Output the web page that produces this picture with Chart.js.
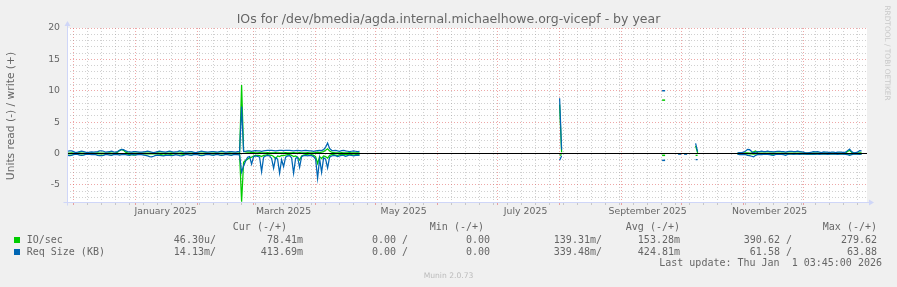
<!DOCTYPE html>
<html>
<head>
<meta charset="utf-8">
<title>IOs by year</title>
<script src="https://cdn.jsdelivr.net/npm/chart.js@4.4.1/dist/chart.umd.min.js"></script>
<style>
  body { margin: 0; background: #F0F0F0; }
  #wrap { position: relative; width: 897px; height: 287px; overflow: hidden; font-family: "DejaVu Sans", sans-serif; color: #666; }
  #wrap canvas { position: absolute; left: 0; top: 0; }
  .t { position: absolute; white-space: pre; }
  .mono { font-family: "DejaVu Sans Mono", monospace; font-size: 10px; line-height: 12px; }
  .sq { position: absolute; width: 6px; height: 6px; }
</style>
</head>
<body>
<div id="wrap">
  <canvas id="chart" width="897" height="287"></canvas>
  <div class="t" style="left:0;width:897px;text-align:center;top:12px;font-size:12.5px;line-height:14px">IOs for /dev/bmedia/agda.internal.michaelhowe.org-vicepf - by year</div>
  <div class="t" style="left:-89.5px;width:200px;top:109px;font-size:10.7px;line-height:14px;text-align:center;transform:rotate(-90deg)">Units read (-) / write (+)</div>
  <div class="t" style="left:836.7px;width:100px;top:47px;font-size:7.4px;line-height:12px;text-align:center;color:#c8c8c8;transform:rotate(90deg)">RRDTOOL / TOBI OETIKER</div>
  <div class="t" style="left:0;width:897px;text-align:center;top:270px;font-size:7.6px;line-height:12px;color:#bbb">Munin 2.0.73</div>
  <div id="legend"></div>
</div>
<script>
// x values are days since 1 Dec 2024, one point per day (munin yearly RRA)
var seg1Start = -3;   // 28 Nov 2024
var seg3Start = 332;  // 29 Oct 2025

// IO/sec, write (+)
var ioWrite1 = [
  0.05,0.05,0.1,0.05,0.05,0.05,0.1,0.05,0.05,0.05,
  0.05,0.05,0.1,0.05,0.05,0.1,0.05,0.05,0.05,0.05,
  0.05,0.1,0.05,0.05,0.1,0.2,0.45,0.65,0.5,0.2,
  0.1,0.05,0.05,0.05,0.05,0.05,0.1,0.05,0.05,0.05,
  0.05,0.05,0.05,0.05,0.05,0.1,0.05,0.05,0.05,0.05,
  0.05,0.05,0.1,0.05,0.05,0.05,0.05,0.1,0.05,0.05,
  0.05,0.05,0.05,0.1,0.05,0.05,0.05,0.05,0.05,0.1,
  0.05,0.05,0.05,0.05,0.1,0.05,0.05,0.05,0.05,0.05,
  0.05,0.1,0.05,0.05,0.05,0.05,0.1,
  10.9,
  0.3,0.25,0.2,0.2,0.15,0.15,0.1,0.1,0.15,0.1,
  0.1,0.1,0.15,0.1,0.1,0.1,0.15,0.1,0.1,0.1,
  0.1,0.15,0.1,0.1,0.1,0.15,0.1,0.1,0.15,0.1,
  0.1,0.1,0.15,0.1,0.1,0.1,0.15,0.2,0.15,0.2,
  0.3,0.5,0.75,0.4,0.2,0.15,0.1,0.1,0.1,0.15,
  0.1,0.1,0.1,0.15,0.1,0.1,0.1,0.1,0.1
];
// IO/sec, read (-)
var ioRead1 = [
  -0.05,-0.05,-0.05,-0.05,-0.05,-0.05,-0.05,-0.05,-0.05,-0.05,
  -0.05,-0.05,-0.05,-0.05,-0.05,-0.05,-0.05,-0.05,-0.05,-0.05,
  -0.05,-0.05,-0.05,-0.05,-0.05,-0.05,-0.05,-0.1,-0.05,-0.05,
  -0.1,-0.2,-0.2,-0.25,-0.2,-0.1,-0.05,-0.05,-0.05,-0.05,
  -0.05,-0.05,-0.05,-0.05,-0.05,-0.05,-0.1,-0.2,-0.25,-0.2,
  -0.25,-0.2,-0.1,-0.05,-0.05,-0.05,-0.05,-0.1,-0.15,-0.1,
  -0.05,-0.05,-0.05,-0.05,-0.05,-0.05,-0.05,-0.05,-0.05,-0.05,
  -0.05,-0.05,-0.05,-0.05,-0.05,-0.05,-0.05,-0.05,-0.05,-0.05,
  -0.05,-0.05,-0.05,-0.05,-0.05,-0.05,-0.1,
  -7.7,
  -1.4,-1.1,-0.9,-0.7,-0.6,-0.4,-0.3,-0.3,-0.35,-0.5,
  -0.3,-0.25,-0.2,-0.25,-0.3,-0.5,-0.85,-0.4,-0.5,-0.3,
  -0.35,-0.25,-0.2,-0.2,-0.3,-0.5,-0.4,-0.6,-1.05,-0.4,
  -0.25,-0.2,-0.2,-0.25,-0.2,-0.3,-0.5,-1.6,-0.5,-0.8,
  -0.4,-0.5,-0.75,-0.3,-0.2,-0.2,-0.25,-0.3,-0.2,-0.2,
  -0.15,-0.2,-0.2,-0.15,-0.2,-0.25,-0.2,-0.15,-0.2
];
// Req Size (KB), write (+)
var reqWrite1 = [
  0.35,0.4,0.4,0.3,0.15,0.2,0.3,0.35,0.3,0.2,
  0.15,0.2,0.25,0.2,0.25,0.3,0.4,0.4,0.35,0.2,
  0.25,0.3,0.35,0.25,0.2,0.3,0.5,0.65,0.6,0.4,
  0.3,0.25,0.2,0.3,0.3,0.25,0.2,0.2,0.25,0.3,
  0.35,0.3,0.2,0.15,0.2,0.3,0.35,0.3,0.25,0.2,
  0.3,0.35,0.3,0.2,0.25,0.3,0.4,0.35,0.25,0.2,
  0.25,0.3,0.3,0.2,0.15,0.2,0.3,0.35,0.3,0.25,
  0.2,0.25,0.3,0.3,0.25,0.2,0.3,0.35,0.3,0.2,
  0.25,0.3,0.3,0.25,0.2,0.3,0.3,
  7.5,
  0.3,0.35,0.4,0.4,0.35,0.4,0.45,0.4,0.4,0.35,
  0.4,0.45,0.5,0.5,0.5,0.45,0.4,0.45,0.5,0.5,
  0.45,0.5,0.5,0.5,0.45,0.4,0.45,0.5,0.45,0.4,
  0.45,0.5,0.45,0.4,0.4,0.35,0.4,0.45,0.5,0.45,
  0.6,1.0,1.65,0.8,0.5,0.45,0.5,0.4,0.35,0.45,
  0.5,0.4,0.35,0.3,0.35,0.4,0.35,0.3,0.35
];
// Req Size (KB), read (-)
var reqRead1 = [
  -0.3,-0.35,-0.3,-0.2,-0.1,-0.15,-0.25,-0.3,-0.25,-0.15,
  -0.1,-0.15,-0.2,-0.15,-0.2,-0.3,-0.35,-0.35,-0.3,-0.15,
  -0.2,-0.25,-0.3,-0.2,-0.15,-0.2,-0.25,-0.2,-0.15,-0.2,
  -0.25,-0.3,-0.2,-0.2,-0.25,-0.2,-0.15,-0.2,-0.25,-0.3,
  -0.4,-0.5,-0.55,-0.45,-0.3,-0.25,-0.3,-0.35,-0.4,-0.3,
  -0.25,-0.3,-0.35,-0.3,-0.2,-0.25,-0.35,-0.4,-0.3,-0.2,
  -0.2,-0.25,-0.3,-0.2,-0.15,-0.2,-0.3,-0.35,-0.3,-0.2,
  -0.15,-0.2,-0.25,-0.3,-0.2,-0.15,-0.25,-0.3,-0.25,-0.15,
  -0.2,-0.25,-0.3,-0.2,-0.15,-0.2,-0.25,
  -3.0,
  -2.0,-1.2,-0.6,-0.5,-1.7,-0.5,-0.4,-0.45,-0.6,-2.9,
  -0.6,-0.4,-0.3,-0.4,-0.8,-2.35,-0.7,-0.9,-3.15,-1.0,
  -2.1,-0.6,-0.4,-0.35,-0.7,-3.15,-0.8,-0.6,-2.2,-0.5,
  -0.35,-0.3,-0.4,-0.3,-0.35,-0.5,-0.9,-3.95,-0.8,-3.0,
  -0.7,-0.9,-2.3,-0.6,-0.4,-0.3,-0.35,-0.5,-0.4,-0.3,
  -0.3,-0.45,-0.35,-0.25,-0.3,-0.4,-0.3,-0.25,-0.3
];

// scattered samples during the summer
var spotDays      = [243, 244, 295, 303, 306, 311, 312];
var ioWriteSpot   = [7.8, 0.2, 8.5, null, null, 1.2, 0.1];
var ioReadSpot    = [-0.3, -0.2, -0.3, null, null, -0.3, -0.3];
var reqWriteSpot  = [8.8, 0.6, 10.0, null, null, 1.6, 0.3];
var reqReadSpot   = [-1.1, -0.4, -1.1, -0.1, -0.1, -1.0, -1.0];

var ioWrite3 = [
  0.05,0.05,0.05,0.05,0.1,0.1,0.05,0.1,0.25,0.4,
  0.1,0.05,0.05,0.05,0.05,0.05,0.05,0.05,0.05,0.05,
  0.05,0.05,0.05,0.05,0.05,0.05,0.05,0.05,0.05,0.05,
  0.05,0.05,0.05,0.05,0.05,0.05,0.05,0.05,0.05,0.05,
  0.05,0.05,0.05,0.05,0.05,0.05,0.05,0.05,0.05,0.05,
  0.05,0.05,0.05,0.05,0.1,0.3,0.5,0.2,0.05,0.05,
  0.05,0.1,0.1
];
var ioRead3 = [
  -0.15,-0.15,-0.15,-0.1,-0.05,-0.05,-0.05,-0.05,-0.1,-0.05,
  -0.05,-0.05,-0.05,-0.05,-0.1,-0.15,-0.15,-0.15,-0.1,-0.05,
  -0.05,-0.05,-0.05,-0.05,-0.05,-0.05,-0.05,-0.05,-0.05,-0.05,
  -0.05,-0.05,-0.05,-0.05,-0.1,-0.15,-0.15,-0.15,-0.15,-0.1,
  -0.05,-0.05,-0.05,-0.05,-0.05,-0.05,-0.05,-0.05,-0.05,-0.05,
  -0.05,-0.05,-0.05,-0.05,-0.05,-0.1,-0.1,-0.05,-0.05,-0.05,
  -0.05,-0.05,-0.05
];
var reqWrite3 = [
  0.1,0.15,0.15,0.2,0.4,0.65,0.6,0.3,0.1,0.2,
  0.3,0.3,0.35,0.3,0.3,0.35,0.3,0.3,0.25,0.3,
  0.35,0.35,0.3,0.3,0.2,0.3,0.35,0.35,0.3,0.3,
  0.35,0.3,0.25,0.2,0.1,0.1,0.15,0.2,0.3,0.25,
  0.3,0.2,0.15,0.25,0.2,0.2,0.15,0.2,0.2,0.15,
  0.2,0.2,0.2,0.15,0.2,0.45,0.7,0.3,0.1,0.15,
  0.2,0.43,0.4
];
var reqRead3 = [
  -0.1,-0.2,-0.2,-0.15,-0.2,-0.3,-0.35,-0.45,-0.55,-0.3,
  -0.2,-0.15,-0.2,-0.15,-0.1,-0.15,-0.2,-0.25,-0.3,-0.15,
  -0.1,-0.15,-0.15,-0.2,-0.3,-0.15,-0.1,-0.1,-0.15,-0.1,
  -0.1,-0.15,-0.1,-0.1,-0.1,-0.15,-0.1,-0.1,-0.15,-0.1,
  -0.1,-0.15,-0.1,-0.1,-0.1,-0.15,-0.1,-0.1,-0.1,-0.1,
  -0.15,-0.1,-0.1,-0.1,-0.15,-0.2,-0.3,-0.2,-0.1,-0.1,
  -0.1,-0.15,-0.1
];

// axis
var xMin = -3.3, xMax = 396.7;
var yMin = -7.74, yMax = 20;
var monthStarts = [0, 31, 62, 90, 121, 151, 182, 212, 243, 274, 304, 335, 365];
var weekDays = [7,14,21,28,35,42,49,56,63,70,77,84,91,98,105,112,119,126,133,140,147,154,161,168,175,182,189,196,203,210,217,224,231,238,245,252,259,266,273,280,287,294,301,308,315,322,329,336,343,350,357,364,371,378,385,392];
var labelDays = [46, 105, 165, 226, 287, 348];
var monthLabels = ["January 2025", "March 2025", "May 2025", "July 2025", "September 2025", "November 2025"];
var yTicks = [-7,-6,-5,-4,-3,-2,-1,0,1,2,3,4,5,6,7,8,9,10,11,12,13,14,15,16,17,18,19,20];

// legend
var legendHead = ["Cur (-/+)", "Min (-/+)", "Avg (-/+)", "Max (-/+)"];
var ioSecStats = ["46.30u/", "78.41m", "0.00 /", "0.00", "139.31m/", "153.28m", "390.62 /", "279.62"];
var reqSizeStats = ["14.13m/", "413.69m", "0.00 /", "0.00", "339.48m/", "424.81m", "61.58 /", "63.88"];
var lastUpdate = "Last update: Thu Jan  1 03:45:00 2026";

var green = "#00CC00", blue = "#0066B3";
var majorGrid = "rgba(222,79,79,0.5)", minorGrid = "rgba(143,143,143,0.42)";

function series(a, spot, c) {
    var pts = [];
    function push(day, v) {
        if (v === null) return;
        var last = pts[pts.length - 1];
        if (last && day - last.x > 1) pts.push({ x: (last.x + day) / 2, y: null });
        pts.push({ x: day, y: v });
    }
    a.forEach((v, i) => push(seg1Start + i, v));
    spotDays.forEach((d, i) => push(d, spot[i]));
    c.forEach((v, i) => push(seg3Start + i, v));
    return pts;
}

// lone samples get a short dash, like rrdtool does
function lonely(c) {
    var d = c.dataset.data, i = c.dataIndex;
    var p = d[i - 1], n = d[i + 1];
    return ((!p || p.y === null) && (!n || n.y === null)) ? 1.5 : 0;
}

function line(label, data, color) {
    return {
        label: label, data: data, borderColor: color, borderWidth: 1.25,
        pointRadius: lonely, pointStyle: 'line', pointBorderColor: color,
        pointBorderWidth: 1.5, pointHoverRadius: 0, tension: 0, fill: false
    };
}

var xTicks = monthStarts.concat(weekDays, labelDays)
    .filter((v, i, arr) => arr.indexOf(v) === i)
    .sort((a, b) => a - b);

function xGrid(v) {
    if (monthStarts.indexOf(v) >= 0) return majorGrid;
    if (weekDays.indexOf(v) >= 0) return minorGrid;
    return "rgba(0,0,0,0)";
}

var muninPlugin = {
    id: 'munin',
    beforeDraw(chart) {
        var a = chart.chartArea, c = chart.ctx;
        c.save();
        c.fillStyle = "#F0F0F0";
        c.fillRect(0, 0, chart.width, chart.height);
        c.fillStyle = "#FFFFFF";
        c.fillRect(a.left, a.top, a.right - a.left, a.bottom - a.top);
        c.restore();
    },
    afterDatasetsDraw(chart) {
        var a = chart.chartArea, c = chart.ctx;
        var y0 = Math.round(chart.scales.y.getPixelForValue(0)) + 0.5;
        c.save();
        c.strokeStyle = "#000";
        c.lineWidth = 1;
        c.beginPath();
        c.moveTo(a.left, y0);
        c.lineTo(a.right, y0);
        c.stroke();
        c.restore();
    },
    afterDraw(chart) {
        var a = chart.chartArea, c = chart.ctx;
        var l = Math.round(a.left) + 0.5, b = Math.round(a.bottom) + 0.5;
        c.save();
        c.strokeStyle = "#CFD6F8";
        c.fillStyle = "#CFD6F8";
        c.lineWidth = 1;
        c.beginPath();
        c.moveTo(l, b + 3); c.lineTo(l, a.top - 3);
        c.moveTo(l - 4, b); c.lineTo(a.right + 3, b);
        c.stroke();
        c.beginPath();
        c.moveTo(l - 3, a.top - 2); c.lineTo(l + 3, a.top - 2); c.lineTo(l, a.top - 7);
        c.closePath(); c.fill();
        c.beginPath();
        c.moveTo(a.right + 2, b - 3); c.lineTo(a.right + 2, b + 3); c.lineTo(a.right + 7, b);
        c.closePath(); c.fill();
        c.restore();
    }
};

var tickFont = { family: "DejaVu Sans", size: 9.33 };

new Chart(document.getElementById('chart').getContext('2d'), {
    type: 'line',
    data: {
        datasets: [
            line("Req Size (KB) write", series(reqWrite1, reqWriteSpot, reqWrite3), blue),
            line("Req Size (KB) read", series(reqRead1, reqReadSpot, reqRead3), blue),
            line("IO/sec write", series(ioWrite1, ioWriteSpot, ioWrite3), green),
            line("IO/sec read", series(ioRead1, ioReadSpot, ioRead3), green)
        ]
    },
    options: {
        responsive: false,
        animation: false,
        devicePixelRatio: 1,
        events: [],
        layout: { padding: { left: 27, right: 30, top: 28, bottom: 65 } },
        plugins: { legend: { display: false }, tooltip: { enabled: false } },
        scales: {
            x: {
                type: 'linear', min: xMin, max: xMax,
                afterBuildTicks: (s) => { s.ticks = xTicks.map((v) => ({ value: v })); },
                afterFit: (s) => { s.height = 20; },
                grid: {
                    color: (c) => xGrid(c.tick.value),
                    tickColor: (c) => xGrid(c.tick.value),
                    drawTicks: true, tickLength: 3, lineWidth: 1
                },
                border: { display: false, dash: [1, 2] },
                ticks: {
                    autoSkip: false, maxRotation: 0, minRotation: 0, padding: 1,
                    color: "#666", font: tickFont,
                    callback: (v) => { var i = labelDays.indexOf(v); return i >= 0 ? monthLabels[i] : ""; }
                }
            },
            y: {
                type: 'linear', min: yMin, max: yMax,
                afterBuildTicks: (s) => { s.ticks = yTicks.map((v) => ({ value: v })); },
                afterFit: (s) => { s.width = 40; },
                grid: {
                    color: (c) => c.tick.value % 5 === 0 ? majorGrid : minorGrid,
                    drawTicks: false, lineWidth: 1
                },
                border: { display: false, dash: [1, 2] },
                ticks: {
                    autoSkip: false, padding: 7, color: "#666", font: tickFont,
                    callback: (v) => v % 5 === 0 ? String(v) : ""
                }
            }
        }
    },
    plugins: [muninPlugin]
});

// legend block below the graph
var legend = document.getElementById("legend");
var headRight = [287, 484, 680, 877];
var statRight = [216, 303, 408, 490, 602, 680, 792, 877];

function text(str, right, top, left) {
    var d = document.createElement("div");
    d.className = "t mono";
    if (left !== undefined) d.style.left = left + "px";
    else d.style.right = (897 - right) + "px";
    d.style.top = top + "px";
    d.textContent = str;
    legend.appendChild(d);
}
function square(color, top) {
    var d = document.createElement("div");
    d.className = "sq";
    d.style.left = "14px";
    d.style.top = top + "px";
    d.style.background = color;
    legend.appendChild(d);
}

legendHead.forEach((h, i) => text(h, headRight[i], 221.3));
square(green, 237);
text("IO/sec", 0, 233.7, 26.7);
ioSecStats.forEach((s, i) => text(s, statRight[i], 233.7));
square(blue, 249);
text("Req Size (KB)", 0, 245.7, 26.7);
reqSizeStats.forEach((s, i) => text(s, statRight[i], 245.7));
text(lastUpdate, 882, 257.3);
</script>
</body>
</html>
